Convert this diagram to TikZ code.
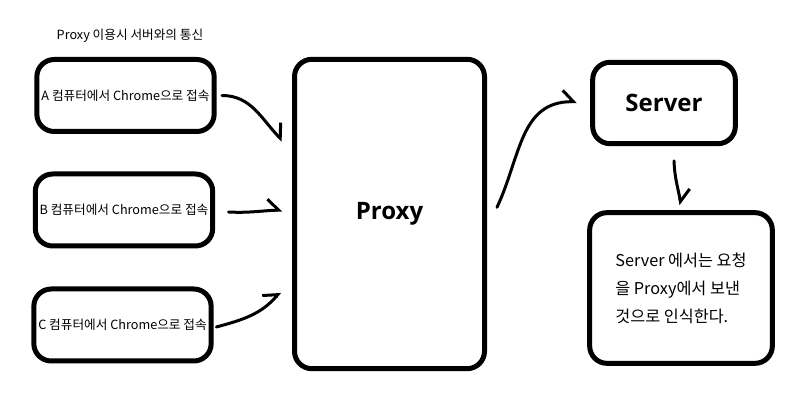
\documentclass[tikz,border=0pt]{standalone}
\usepackage{fontspec}
\setmainfont{Noto Sans CJK KR}
\newfontfamily\headfont{Open Sans}[BoldFont={Open Sans Bold}]
\usetikzlibrary{arrows.meta,positioning}

\begin{document}
\begin{tikzpicture}[
    x=0.75pt, y=0.75pt,
    font=\fontsize{9.5}{11}\selectfont,
    pc/.style={draw, line width=3.75pt, rounded corners=13pt, minimum width=133pt, minimum height=54pt, align=center, inner sep=1pt},
    big/.style={draw, line width=3.75pt, rounded corners=13pt, align=center},
    note/.style={draw, line width=3.75pt, rounded corners=13pt, minimum width=137pt, minimum height=113pt, align=left,
        font=\fontsize{12.2}{21}\selectfont},
    head/.style={font=\headfont\fontsize{18}{20}\selectfont\bfseries},
    link/.style={line width=2.25pt, line cap=round, line join=round,
        -{Straight Barb[left, length=8pt, width=17pt]}}
]
\useasboundingbox (0,0) rectangle (807,403);

\node (title) at (130,367) {Proxy 이용시 서버와의 통신};

\node[pc] (pca) at (125.5,307.5) {A 컴퓨터에서 Chrome으로 접속};
\node[pc] (pcb) at (124,193) {B 컴퓨터에서 Chrome으로 접속};
\node[pc] (pcc) at (122.5,78) {C 컴퓨터에서 Chrome으로 접속};

\node[big, minimum width=142.5pt, minimum height=232pt, head] (proxy) at (389.5,189) {Proxy};
\node[big, minimum width=107pt, minimum height=61pt, head] (server) at (664,300) {Server};
\node[note] (result) at (681,115)
    {Server 에서는 요청\\을 Proxy에서 보낸\\것으로 인식한다.};

% clients -> proxy
\draw[link] ([xshift=4pt]pca.east) to[out=0, in=135] ([xshift=-7pt, yshift=55pt]proxy.west);
\draw[link] ([xshift=10pt, yshift=-1.5pt]pcb.east) to[out=-3, in=182] ([xshift=-7.5pt, yshift=3pt]proxy.west);
\draw[link] ([xshift=2pt, yshift=-1.5pt]pcc.east) to[out=15, in=-130] ([xshift=-9pt, yshift=-58.5pt]proxy.west);

% proxy -> server -> result
\draw[link] ([xshift=7.5pt, yshift=5pt]proxy.east) to[out=65, in=180, looseness=1.1] ([xshift=-10pt, yshift=1pt]server.west);
\draw[link] ([xshift=7.5pt, yshift=-11pt]server.south) to[out=-88, in=100] ([yshift=4pt]result.north);

\end{tikzpicture}
\end{document}
